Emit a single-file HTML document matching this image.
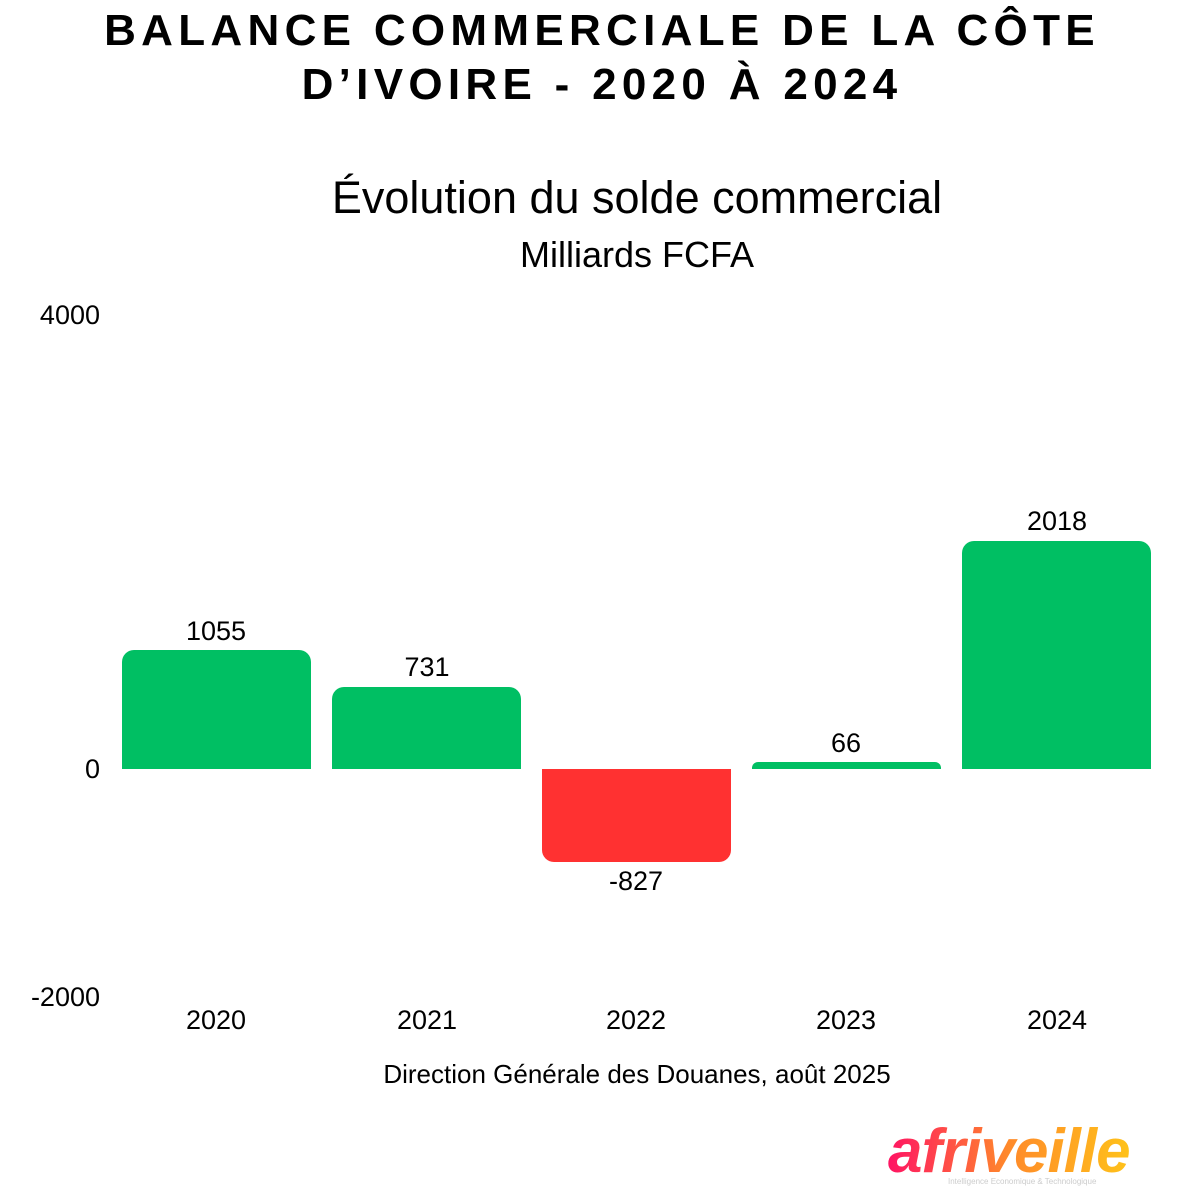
<!DOCTYPE html>
<html><head><meta charset="utf-8"><style>
body{margin:0;width:1200px;height:1200px;background:#fff;overflow:hidden;font-family:"Liberation Sans","DejaVu Sans",sans-serif;color:#000}
.a{position:absolute}
.t{position:absolute;white-space:nowrap;transform:translateX(-50%)}
.bar{position:absolute;width:189px}
</style></head><body>
<div class="t" style="left:602px;top:4px;font-size:44px;font-weight:bold;letter-spacing:5.3px;line-height:54px;text-align:center">BALANCE COMMERCIALE DE LA CÔTE<br>D’IVOIRE - 2020 À 2024</div>
<div class="t" style="left:637px;top:172px;font-size:45px">Évolution du solde commercial</div>
<div class="t" style="left:637px;top:234px;font-size:36px">Milliards FCFA</div>
<div class="a" style="right:1100px;top:300px;font-size:27px">4000</div>
<div class="a" style="right:1100px;top:754px;font-size:27px">0</div>
<div class="a" style="right:1100px;top:982px;font-size:27px">-2000</div>
<div class="bar" style="left:122px;top:650px;height:119px;background:#00bf63;border-radius:12px 12px 0 0"></div>
<div class="bar" style="left:332px;top:687px;height:82px;background:#00bf63;border-radius:12px 12px 0 0"></div>
<div class="bar" style="left:542px;top:769px;height:93px;background:#ff3131;border-radius:0 0 12px 12px"></div>
<div class="bar" style="left:752px;top:762px;height:7px;background:#00bf63;border-radius:6px 6px 0 0"></div>
<div class="bar" style="left:962px;top:541px;height:228px;background:#00bf63;border-radius:12px 12px 0 0"></div>
<div class="t" style="left:216px;top:616px;font-size:27px">1055</div>
<div class="t" style="left:427px;top:652px;font-size:27px">731</div>
<div class="t" style="left:636px;top:866px;font-size:27px">-827</div>
<div class="t" style="left:846px;top:728px;font-size:27px">66</div>
<div class="t" style="left:1057px;top:506px;font-size:27px">2018</div>
<div class="t" style="left:216px;top:1005px;font-size:27px">2020</div>
<div class="t" style="left:427px;top:1005px;font-size:27px">2021</div>
<div class="t" style="left:636px;top:1005px;font-size:27px">2022</div>
<div class="t" style="left:846px;top:1005px;font-size:27px">2023</div>
<div class="t" style="left:1057px;top:1005px;font-size:27px">2024</div>
<div class="t" style="left:637px;top:1059px;font-size:26px">Direction Générale des Douanes, août 2025</div>
<div class="a" style="left:888px;top:1120px;font-size:62px;font-weight:bold;font-style:italic;line-height:64px;background:linear-gradient(90deg,#ff1463,#ff8a2a,#ffc21a);-webkit-background-clip:text;background-clip:text;color:transparent;letter-spacing:-1px">afriveille</div>
<div class="a" style="left:948px;top:1177px;font-size:8px;color:#ccc">Intelligence Economique &amp; Technologique</div>
</body></html>
